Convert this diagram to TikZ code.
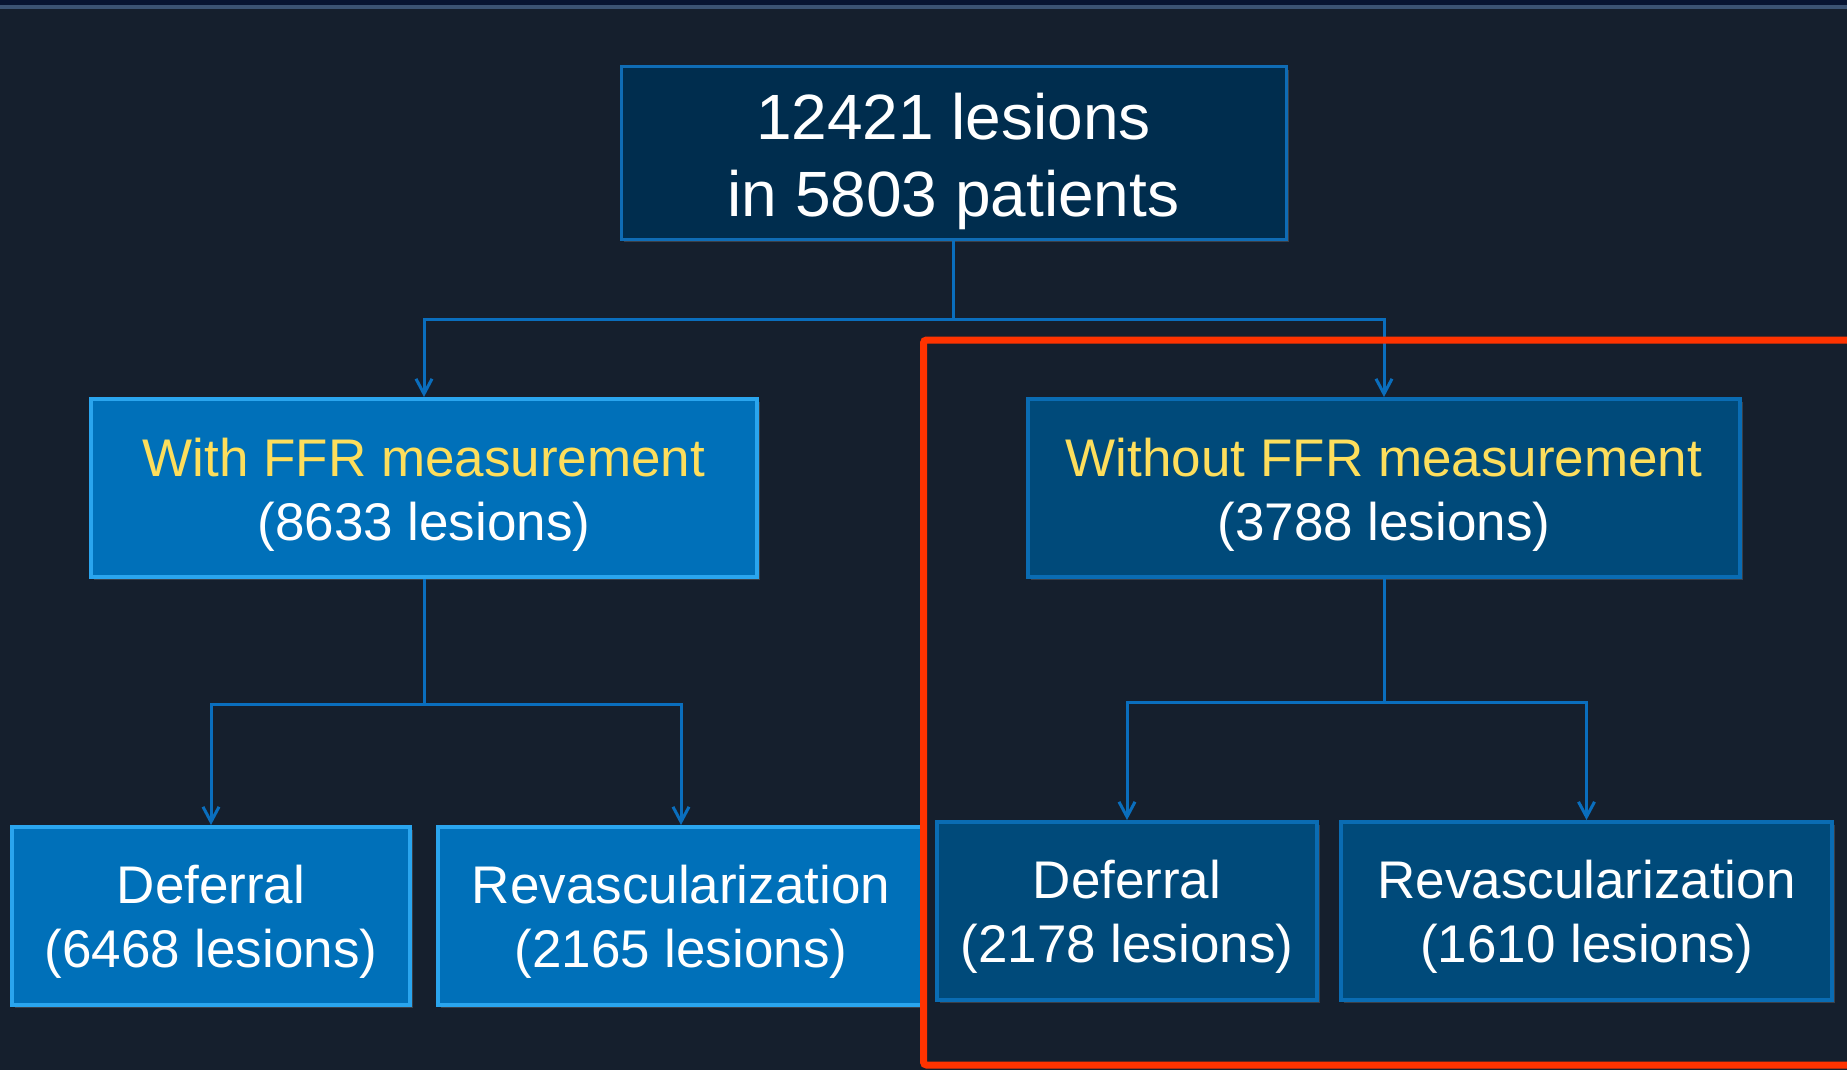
\documentclass[tikz,border=0pt]{standalone}
\usepackage{fontspec}
\setmainfont{Liberation Sans}
\usetikzlibrary{arrows.meta,shadows}
\definecolor{bg}{HTML}{151F2D}
\definecolor{topband}{HTML}{081532}
\definecolor{topline}{HTML}{3B5373}
\definecolor{conncol}{HTML}{0A6EBD}
\definecolor{topfill}{HTML}{002D4E}
\definecolor{topedge}{HTML}{0F6CB5}
\definecolor{litefill}{HTML}{0070B9}
\definecolor{liteedge}{HTML}{2AA5EE}
\definecolor{darkfill}{HTML}{004A7A}
\definecolor{darkedge}{HTML}{0A6CB3}
\definecolor{ylw}{HTML}{FDDE5C}
\definecolor{redbox}{HTML}{FF3300}
\tikzset{
  boxbase/.style={rectangle, inner sep=0pt,
    drop shadow={opacity=0.35, shadow xshift=3pt, shadow yshift=-3pt}},
  bigtext/.style={align=center, text=white, inner sep=0pt,
    font=\fontsize{64}{77}\selectfont, yshift=-8pt},
  midtext/.style={align=center, text=white, inner sep=0pt,
    font=\fontsize{53}{64}\selectfont, yshift=-7pt},
  lowtext/.style={midtext, yshift=1.5pt},
  topbox/.style={boxbase, fill=topfill, draw=topedge, line width=3pt},
  litebox/.style={boxbase, fill=litefill, draw=liteedge, line width=4pt},
  darkbox/.style={boxbase, fill=darkfill, draw=darkedge, line width=4pt},
  conn/.style={draw=conncol, line width=3pt},
  arr/.style={conn, -{Straight Barb[length=15pt,width=16pt,line width=3pt]}},
}
\begin{document}
\begin{tikzpicture}[x=1pt,y=-1pt]
\useasboundingbox (0,0) rectangle (1847,1070);
\fill[bg] (0,0) rectangle (1847,1070);
\fill[topband] (0,0) rectangle (1847,5);
\fill[topline] (0,5) rectangle (1847,9.5);

\node[topbox, minimum width=665pt, minimum height=172pt,
  label={[bigtext]center:12421 lesions\\in 5803 patients}] (top) at (953.5,153) {};
\node[litebox, minimum width=666pt, minimum height=178pt,
  label={[midtext]center:\textcolor{ylw}{With FFR measurement}\\(8633 lesions)}] (with) at (424,488) {};
\node[darkbox, minimum width=712pt, minimum height=178pt,
  label={[midtext]center:\textcolor{ylw}{Without FFR measurement}\\(3788 lesions)}] (without) at (1384,488) {};
\node[litebox, minimum width=398pt, minimum height=178pt,
  label={[lowtext]center:Deferral\\(6468 lesions)}] (d1) at (211,916) {};
\node[litebox, minimum width=486pt, minimum height=178pt,
  label={[lowtext]center:Revascularization\\(2165 lesions)}] (r1) at (681,916) {};
\node[darkbox, minimum width=380pt, minimum height=178pt,
  label={[lowtext]center:Deferral\\(2178 lesions)}] (d2) at (1127,911) {};
\node[darkbox, minimum width=491pt, minimum height=178pt,
  label={[lowtext]center:Revascularization\\(1610 lesions)}] (r2) at (1586.5,911) {};

\draw[conn] (top.south) -- ++(0,79) coordinate (j1);
\draw[arr] (j1) -| (with.north);
\draw[arr] (j1) -| (without.north);
\draw[conn] (with.south) -- ++(0,125) coordinate (j2);
\draw[arr] (j2) -| (d1.north);
\draw[arr] (j2) -| (r1.north);
\draw[conn] (without.south) -- ++(0,123) coordinate (j3);
\draw[arr] (j3) -| (d2.north);
\draw[arr] (j3) -| (r2.north);

\draw[redbox, line width=7pt, rounded corners=3pt] (923.5,340) rectangle (1880,1065);
\end{tikzpicture}
\end{document}
